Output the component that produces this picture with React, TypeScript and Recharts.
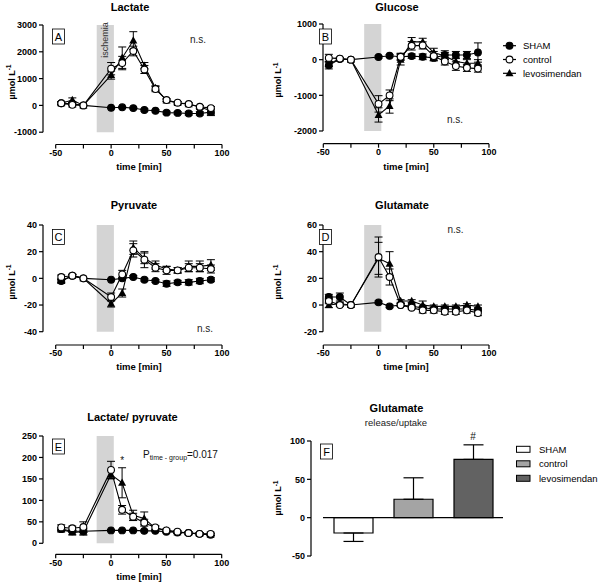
import React from "react";
import {
  LineChart,
  Line,
  XAxis,
  YAxis,
  ReferenceArea,
  ReferenceLine,
  ErrorBar,
  BarChart,
  Bar,
  Cell,
} from "recharts";

const FONT = "'Liberation Sans', Arial, Helvetica, sans-serif";

// sampling times (min), shared by panels A-E
const times = [-45, -35, -25, 0, 10, 20, 30, 40, 50, 60, 70, 80, 90];
const groups = ["SHAM", "control", "levosimendan"];
const markerKinds = ["filled", "open", "tri"];

// A - lactate
const lactateSham = [80, 60, 0, -90, -70, -100, -170, -200, -270, -280, -300, -300, -250];
const lactateShamErr = [40, 60, 0, 30, 30, 30, 40, 40, 50, 50, 60, 60, 130];
const lactateControl = [80, 20, 0, 1370, 1580, 2030, 1340, 610, 200, 100, 50, -50, -100];
const lactateControlErr = [50, 80, 0, 230, 250, 180, 150, 100, 50, 40, 40, 40, 60];
const lactateLevo = [80, 200, 0, 1130, 1780, 2420, 1480, 650, 180, 90, 40, -60, -200];
const lactateLevoErr = [60, 80, 0, 150, 400, 330, 120, 80, 50, 50, 50, 50, 150];

// B - glucose
const glucoseSham = [-160, 20, 0, 75, 110, 80, 100, 80, 50, 130, 130, 130, 200];
const glucoseShamErr = [100, 30, 0, 30, 30, 80, 60, 80, 80, 120, 100, 100, 270];
const glucoseControl = [50, 30, 0, -1240, -1000, 80, 390, 400, 100, -50, -180, -230, -250];
const glucoseControlErr = [100, 30, 0, 230, 150, 100, 120, 100, 130, 100, 120, 100, 100];
const glucoseLevo = [-130, 30, 0, -1550, -1300, 0, 500, 500, 200, 100, -50, -100, -100];
const glucoseLevoErr = [60, 30, 0, 200, 200, 150, 120, 100, 120, 100, 100, 100, 100];

// C - pyruvate
const pyruvateSham = [-2, 2, 0, -1, 0, 1, -1, -2, -4, -3, -3, -2, -1];
const pyruvateShamErr = [1, 1, 0, 0.5, 0.5, 1, 1, 1, 2, 1.5, 2, 2, 1.5];
const pyruvateControl = [1, 2, 0, -14, 3, 21, 14, 8, 6, 6, 8, 8, 7];
const pyruvateControlErr = [1.5, 1, 0, 3, 3, 5, 6, 3, 3, 2, 3, 3, 3];
const pyruvateLevo = [-2, 2, 0, -19, -11, 23, 15, 10, 7, 6, 9, 9, 10];
const pyruvateLevoErr = [1.5, 1, 0, 2.5, 3, 5, 4, 3, 2, 2, 4, 4, 4];

// D - glutamate
const glutamateSham = [6, 6, 0, 2, -1, 0, -1, -2, -3, -3, -3, -3, -4];
const glutamateShamErr = [2, 3, 0, 1, 1, 1, 1, 1, 1, 1, 1, 1, 1];
const glutamateControl = [3, 0, 0, 36, 21, 0, -2, -4, -4, -5, -5, -4, -6];
const glutamateControlErr = [2, 1, 0, 15, 6, 1, 1, 2, 2, 2, 2, 2, 2];
const glutamateLevo = [0, 1, 0, 35, 31, 3, 3, 0, -1, -1, -1, 0, -1];
const glutamateLevoErr = [2, 1, 0, 12, 9, 1, 1, 3, 1, 1, 1, 1, 1];

// E - lactate/pyruvate ratio
const lpSham = [33, 28, 28, 30, 30, 30, 29, 29, 27, 25, 24, 22, 20];
const lpShamErr = [3, 3, 3, 2, 2, 2, 2, 2, 2, 2, 2, 2, 2];
const lpControl = [37, 35, 38, 171, 78, 62, 48, 37, 30, 27, 24, 22, 22];
const lpControlErr = [6, 5, 12, 20, 10, 8, 8, 4, 3, 3, 3, 3, 4];
const lpLevo = [32, 25, 27, 160, 141, 65, 58, 35, 30, 26, 24, 22, 20];
const lpLevoErr = [5, 5, 8, 10, 35, 12, 15, 5, 3, 3, 3, 3, 3];

// F - glutamate release/uptake
const releaseValues = [-20, 24, 76];
const releaseErrLow = [11, 0, 0];
const releaseErrHigh = [0, 28, 19];
const barFills = ["#ffffff", "#a4a4a4", "#626262"];

const xTicks = [-50, -25, 0, 25, 50, 75, 100];
const tickStyle = { fontSize: 9, fontWeight: 700, fill: "#000", fontFamily: FONT };

function Marker({ cx, cy, kind }: { cx?: number; cy?: number; kind: string }) {
  if (cx == null || cy == null) return null;
  if (kind === "tri") {
    return <polygon points={`${cx},${cy - 4.2} ${cx + 4},${cy + 3} ${cx - 4},${cy + 3}`} fill="#000" />;
  }
  return (
    <circle cx={cx} cy={cy} r={3.4} fill={kind === "open" ? "#fff" : "#000"} stroke="#000" strokeWidth={1.1} />
  );
}

function TimePanel({ geo, yTicks, sham, shamErr, control, controlErr, levo, levoErr }: any) {
  const { plotLeft, plotRight, plotTop, plotBottom, xStart, yTop, yBot, yBotPx } = geo;
  const kx = (plotRight - xStart) / 150;
  const xMin = -50 - (xStart - plotLeft) / kx;
  const ky = (yBotPx - plotTop) / (yTop - yBot);
  const yMin = yBot - (plotBottom - yBotPx) / ky;
  const axisW = 45;
  const axisH = 25;
  const pad = 10;

  const data = times.map((t, i) => ({
    t,
    sham: sham[i],
    shamErr: shamErr[i],
    control: control[i],
    controlErr: controlErr[i],
    levo: levo[i],
    levoErr: levoErr[i],
  }));

  // drawing order: levosimendan under, control on top
  const series = [
    { key: "levo", kind: "tri" },
    { key: "sham", kind: "filled" },
    { key: "control", kind: "open" },
  ];

  return (
    <div style={{ position: "absolute", left: plotLeft - axisW, top: plotTop - pad }}>
      <LineChart
        width={plotRight - plotLeft + axisW + pad}
        height={plotBottom - plotTop + pad + axisH}
        data={data}
        margin={{ top: pad, right: pad, bottom: 0, left: 0 }}
      >
        <XAxis
          type="number"
          dataKey="t"
          domain={[xMin, 100]}
          ticks={xTicks}
          interval={0}
          allowDataOverflow
          axisLine={false}
          tickSize={4}
          tickMargin={1}
          height={axisH}
          tickLine={{ stroke: "#000", strokeWidth: 1.2 }}
          tick={tickStyle}
          tickFormatter={(v: number) => (v % 50 === 0 ? String(v) : "")}
        />
        <YAxis
          type="number"
          domain={[yMin, yTop]}
          ticks={yTicks}
          interval={0}
          allowDataOverflow
          axisLine={false}
          width={axisW}
          tickSize={4}
          tickMargin={2}
          tickLine={{ stroke: "#000", strokeWidth: 1.2 }}
          tick={tickStyle}
        />
        <ReferenceArea x1={-13} x2={2.5} y1={yBot} y2={yTop} fill="#d4d4d4" fillOpacity={1} stroke="none" ifOverflow="visible" />
        <ReferenceLine
          segment={[{ x: xMin, y: yBot }, { x: xMin, y: yTop }]}
          stroke="#000"
          strokeWidth={1.2}
          ifOverflow="visible"
        />
        <ReferenceLine
          segment={[{ x: -50, y: yMin }, { x: 100, y: yMin }]}
          stroke="#000"
          strokeWidth={1.2}
          ifOverflow="visible"
        />
        {series.map((s) => (
          <Line
            key={s.key}
            dataKey={s.key}
            stroke="#000"
            strokeWidth={1.1}
            isAnimationActive={false}
            activeDot={false}
            dot={(p: any) => <Marker key={`${s.key}-${p.index}`} cx={p.cx} cy={p.cy} kind={s.kind} />}
          >
            <ErrorBar dataKey={`${s.key}Err`} width={4} stroke="#000" strokeWidth={1} direction="y" />
          </Line>
        ))}
      </LineChart>
    </div>
  );
}

function ReleasePanel() {
  const data = groups.map((g, i) => ({
    x: i,
    name: g,
    value: releaseValues[i],
    err: [releaseErrLow[i], releaseErrHigh[i]],
  }));
  const plotLeft = 311;
  const plotRight = 503;
  const plotTop = 441;
  const plotBottom = 556;
  return (
    <div style={{ position: "absolute", left: plotLeft - 45, top: plotTop - 10 }}>
      <BarChart
        width={plotRight - plotLeft + 55}
        height={plotBottom - plotTop + 20}
        data={data}
        margin={{ top: 10, right: 10, bottom: 10, left: 0 }}
      >
        <XAxis type="number" dataKey="x" domain={[-0.7, 2.5]} hide />
        <YAxis
          type="number"
          domain={[-50, 100]}
          ticks={[-50, 0, 50, 100]}
          interval={0}
          width={45}
          axisLine={{ stroke: "#000", strokeWidth: 1.2 }}
          tickSize={4}
          tickMargin={2}
          tickLine={{ stroke: "#000", strokeWidth: 1.2 }}
          tick={tickStyle}
        />
        <Bar dataKey="value" barSize={39} stroke="#000" strokeWidth={1.2} isAnimationActive={false}>
          {data.map((d, i) => (
            <Cell key={d.name} fill={barFills[i]} />
          ))}
          <ErrorBar dataKey="err" width={10} stroke="#000" strokeWidth={1.2} direction="y" />
        </Bar>
        <ReferenceLine
          segment={[{ x: -0.5, y: 0 }, { x: 2.5, y: 0 }]}
          stroke="#000"
          strokeWidth={1.2}
          ifOverflow="visible"
        />
      </BarChart>
    </div>
  );
}

function YLabel({ x, y }: { x: number; y: number }) {
  return (
    <text transform={`translate(${x},${y}) rotate(-90)`} textAnchor="middle" fontSize={9} fontWeight={700}>
      µmol L<tspan dy={-3.5} fontSize={6.5}>-1</tspan>
    </text>
  );
}

function XLabel({ x, y }: { x: number; y: number }) {
  return (
    <text x={x} y={y} textAnchor="middle" fontSize={9.5} fontWeight={700}>
      time [min]
    </text>
  );
}

function Title({ x, y, text }: { x: number; y: number; text: string }) {
  return (
    <text x={x} y={y} textAnchor="middle" fontSize={11} fontWeight={700}>
      {text}
    </text>
  );
}

function Letter({ x, y, text }: { x: number; y: number; text: string }) {
  return (
    <g>
      <rect x={x} y={y} width={12} height={15} fill="#fff" stroke="#000" strokeWidth={0.8} />
      <text x={x + 6} y={y + 11.5} textAnchor="middle" fontSize={11}>
        {text}
      </text>
    </g>
  );
}

function NS({ x, y }: { x: number; y: number }) {
  return (
    <text x={x} y={y} fontSize={10} fill="#222">
      n.s.
    </text>
  );
}

export default function App() {
  return (
    <div
      style={{
        position: "absolute",
        left: 0,
        top: 0,
        width: 600,
        height: 583,
        background: "#fff",
        fontFamily: FONT,
        overflow: "hidden",
      }}
    >
      <TimePanel
        geo={{ plotLeft: 43, plotRight: 222, plotTop: 24.5, plotBottom: 144, xStart: 55.7, yTop: 3000, yBot: -1000, yBotPx: 131.7 }}
        yTicks={[-1000, 0, 1000, 2000, 3000]}
        sham={lactateSham}
        shamErr={lactateShamErr}
        control={lactateControl}
        controlErr={lactateControlErr}
        levo={lactateLevo}
        levoErr={lactateLevoErr}
      />
      <TimePanel
        geo={{ plotLeft: 323, plotRight: 489, plotTop: 24.3, plotBottom: 144, xStart: 323.3, yTop: 1000, yBot: -2000, yBotPx: 131.3 }}
        yTicks={[-2000, -1000, 0, 1000]}
        sham={glucoseSham}
        shamErr={glucoseShamErr}
        control={glucoseControl}
        controlErr={glucoseControlErr}
        levo={glucoseLevo}
        levoErr={glucoseLevoErr}
      />
      <TimePanel
        geo={{ plotLeft: 43, plotRight: 222, plotTop: 225, plotBottom: 345, xStart: 55.7, yTop: 40, yBot: -40, yBotPx: 331.7 }}
        yTicks={[-40, -20, 0, 20, 40]}
        sham={pyruvateSham}
        shamErr={pyruvateShamErr}
        control={pyruvateControl}
        controlErr={pyruvateControlErr}
        levo={pyruvateLevo}
        levoErr={pyruvateLevoErr}
      />
      <TimePanel
        geo={{ plotLeft: 323, plotRight: 489, plotTop: 225, plotBottom: 345, xStart: 323.3, yTop: 60, yBot: -20, yBotPx: 331.7 }}
        yTicks={[-20, 0, 20, 40, 60]}
        sham={glutamateSham}
        shamErr={glutamateShamErr}
        control={glutamateControl}
        controlErr={glutamateControlErr}
        levo={glutamateLevo}
        levoErr={glutamateLevoErr}
      />
      <TimePanel
        geo={{ plotLeft: 43, plotRight: 221.7, plotTop: 435.7, plotBottom: 554, xStart: 55.7, yTop: 250, yBot: 0, yBotPx: 543 }}
        yTicks={[0, 50, 100, 150, 200, 250]}
        sham={lpSham}
        shamErr={lpShamErr}
        control={lpControl}
        controlErr={lpControlErr}
        levo={lpLevo}
        levoErr={lpLevoErr}
      />
      <ReleasePanel />

      <svg
        width={600}
        height={583}
        style={{ position: "absolute", left: 0, top: 0, pointerEvents: "none" }}
        fontFamily={FONT}
      >
        <Title x={130} y={11} text="Lactate" />
        <Title x={397} y={11} text="Glucose" />
        <Title x={134} y={209} text="Pyruvate" />
        <Title x={402} y={209} text="Glutamate" />
        <Title x={132.5} y={421} text="Lactate/ pyruvate" />
        <Title x={396.5} y={412} text="Glutamate" />
        <text x={396} y={425.5} textAnchor="middle" fontSize={9.5} fill="#222">
          release/uptake
        </text>

        <Letter x={52.5} y={29} text="A" />
        <Letter x={319.5} y={29} text="B" />
        <Letter x={52.5} y={229.5} text="C" />
        <Letter x={319.5} y={229.5} text="D" />
        <Letter x={52.5} y={439} text="E" />
        <Letter x={320.5} y={444} text="F" />

        <NS x={190} y={42.5} />
        <NS x={447} y={123} />
        <NS x={197} y={331.5} />
        <NS x={447.5} y={233} />

        <text transform="translate(107.5,40) rotate(-90)" textAnchor="middle" fontSize={9} fill="#333">
          ischemia
        </text>

        <YLabel x={14.5} y={82} />
        <YLabel x={281} y={80} />
        <YLabel x={14.5} y={282} />
        <YLabel x={281} y={282} />
        <YLabel x={281} y={498} />

        <XLabel x={139} y={169.5} />
        <XLabel x={406} y={169.5} />
        <XLabel x={139} y={369.5} />
        <XLabel x={406} y={369.5} />
        <XLabel x={139} y={580} />

        <text x={143} y={457.5} fontSize={10} fill="#111">
          P<tspan fontSize={7} dy={2.5}>time - group</tspan>
          <tspan fontSize={10} dy={-2.5}>=0.017</tspan>
        </text>
        <text x={122.3} y={464} textAnchor="middle" fontSize={10} fill="#111">
          *
        </text>
        <text x={473} y={440} textAnchor="middle" fontSize={10} fill="#111">
          #
        </text>

        {groups.map((g, i) => {
          const y = 45.7 + i * 13.8;
          return (
            <g key={`lg-${g}`}>
              <line x1={503} x2={516} y1={y} y2={y} stroke="#000" strokeWidth={1.2} />
              <Marker cx={509.5} cy={y} kind={markerKinds[i]} />
              <text x={523} y={y + 3.3} fontSize={9.5}>
                {g}
              </text>
            </g>
          );
        })}
        {groups.map((g, i) => {
          const y = 449.3 + i * 14.5;
          return (
            <g key={`lf-${g}`}>
              <rect x={516.5} y={y - 3} width={13.5} height={6} fill={barFills[i]} stroke="#000" strokeWidth={1} />
              <text x={539} y={y + 3.3} fontSize={9.5}>
                {g}
              </text>
            </g>
          );
        })}
      </svg>
    </div>
  );
}
